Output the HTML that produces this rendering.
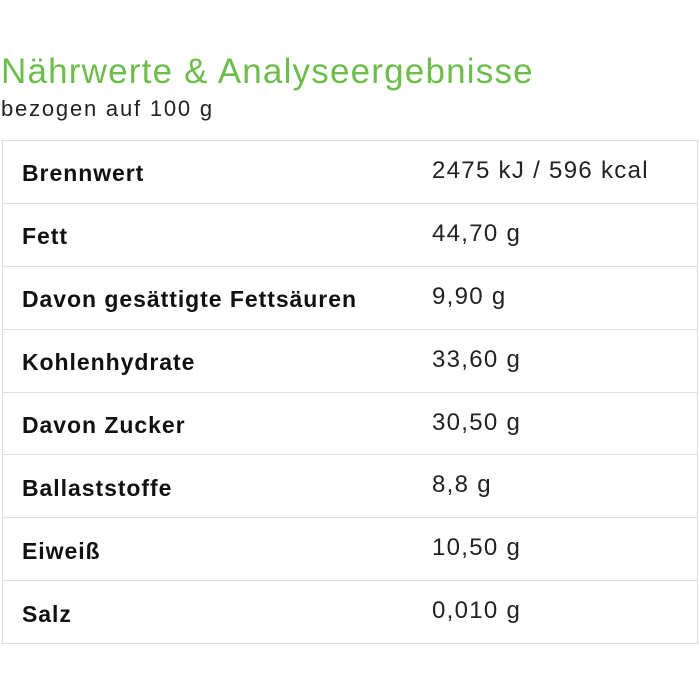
<!DOCTYPE html>
<html><head><meta charset="utf-8"><style>
body{margin:0;width:700px;height:700px;background:#fff;font-family:"Liberation Sans",sans-serif;position:relative;overflow:hidden}
.t{position:absolute;left:1px;top:52px;font-size:35px;color:#6dbd4b;white-space:nowrap;letter-spacing:1.2px}
.s{position:absolute;left:1px;top:96px;font-size:22px;color:#222;white-space:nowrap;letter-spacing:1.8px}
table{position:absolute;left:2px;top:140px;width:696px;border-collapse:collapse;border:1.5px solid #ddd}
td{height:61.9px;border-bottom:1.5px solid #ddd;font-size:23px;color:#111;padding:0;vertical-align:middle}
td.l{padding-left:19px;font-weight:bold;width:410px;letter-spacing:0.95px}
td.l span{position:relative;top:2px}
td.v{color:#222;font-size:24px;letter-spacing:1.3px}
td.v span{position:relative;top:-1px}
</style></head><body>
<div class="t">Nährwerte &amp; Analyseergebnisse</div>
<div class="s">bezogen auf 100 g</div>
<table>
<tr><td class="l"><span>Brennwert</span></td><td class="v"><span>2475 kJ / 596 kcal</span></td></tr>
<tr><td class="l"><span>Fett</span></td><td class="v"><span>44,70 g</span></td></tr>
<tr><td class="l"><span>Davon gesättigte Fettsäuren</span></td><td class="v"><span>9,90 g</span></td></tr>
<tr><td class="l"><span>Kohlenhydrate</span></td><td class="v"><span>33,60 g</span></td></tr>
<tr><td class="l"><span>Davon Zucker</span></td><td class="v"><span>30,50 g</span></td></tr>
<tr><td class="l"><span>Ballaststoffe</span></td><td class="v"><span>8,8 g</span></td></tr>
<tr><td class="l"><span>Eiweiß</span></td><td class="v"><span>10,50 g</span></td></tr>
<tr><td class="l"><span>Salz</span></td><td class="v"><span>0,010 g</span></td></tr>
</table>
</body></html>
